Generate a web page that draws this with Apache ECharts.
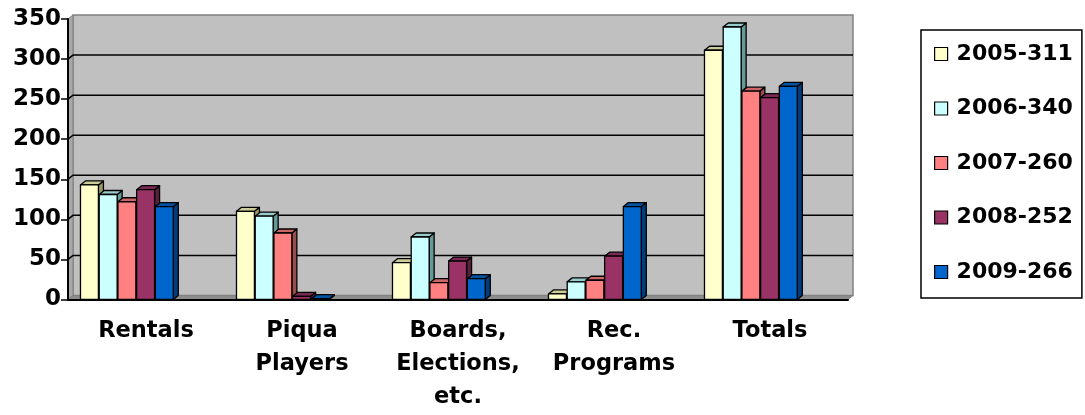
<!DOCTYPE html>
<html><head><meta charset="utf-8">
<script src="https://cdn.jsdelivr.net/npm/echarts@6/dist/echarts.min.js"></script>
<style>html,body{margin:0;padding:0;background:#fff}#c{width:1085px;height:415px}</style>
</head><body><div id="c"></div>
<script>
const categories = ['Rentals', 'Piqua\nPlayers', 'Boards,\nElections,\netc.', 'Rec.\nPrograms', 'Totals'];
const seriesNames = ['2005-311', '2006-340', '2007-260', '2008-252', '2009-266'];
const v2005 = [143, 110, 46, 7, 311];
const v2006 = [131, 104, 78, 22, 340];
const v2007 = [122, 83, 21, 24, 260];
const v2008 = [137, 4, 48, 54, 252];
const v2009 = [116, 1, 26, 116, 266];
const yTicks = [0, 50, 100, 150, 200, 250, 300, 350];

const seriesValues = [v2005, v2006, v2007, v2008, v2009];
const fronts = ['#FFFFCC', '#CCFFFF', '#FF8080', '#993366', '#0066CC'];
const tops = ['#CCCC99', '#99CCCC', '#CC6666', '#7A2952', '#0052A3'];
const sides = ['#999966', '#669999', '#994D4D', '#5C1F3D', '#003D7A'];
const DX = 5, DY = 4;
const FONT = '"DejaVu Sans", sans-serif';

function wallRender(params, api) {
  const cs = params.coordSys;
  const x0 = cs.x, x1 = cs.x + cs.width, yT = cs.y, yB = cs.y + cs.height;
  const children = [];
  children.push({type: 'rect', shape: {x: x0 + DX, y: yT - DY, width: cs.width, height: cs.height},
    style: {fill: '#C0C0C0', stroke: '#808080', lineWidth: 1.5}});
  children.push({type: 'polygon', shape: {points: [[x0, yT], [x0 + DX, yT - DY], [x0 + DX, yB - DY], [x0, yB]]},
    style: {fill: '#A8A8A8', stroke: '#808080', lineWidth: 1}});
  children.push({type: 'polygon', shape: {points: [[x0, yB], [x0 + DX, yB - DY], [x1 + DX, yB - DY], [x1, yB]]},
    style: {fill: '#8C8C8C', stroke: '#808080', lineWidth: 1}});
  yTicks.forEach(function (t) {
    if (t === 0 || t === yTicks[yTicks.length - 1]) return;
    const y = api.coord([0, t])[1];
    children.push({type: 'polyline', shape: {points: [[x0, y], [x0 + DX, y - DY], [x1 + DX, y - DY]]},
      style: {stroke: '#000', lineWidth: 1.5, fill: null}});
  });
  return {type: 'group', children: children};
}

function makeBarRender(s) {
  return function (params, api) {
    const idx = api.value(0), v = api.value(1);
    const top = api.coord([idx, v]);
    const base = api.coord([idx, 0]);
    const catW = api.size([1, 0])[0];
    const left = base[0] - catW / 2 + catW * 0.08 + s * catW * 0.12;
    const w = catW * 0.115;
    const yT = top[1], yB = base[1];
    const st = {stroke: '#000', lineWidth: 1.3, lineJoin: 'round'};
    return {type: 'group', children: [
      {type: 'polygon', shape: {points: [[left + w, yT], [left + w + DX, yT - DY], [left + w + DX, yB - DY], [left + w, yB]]},
        style: Object.assign({fill: sides[s]}, st)},
      {type: 'polygon', shape: {points: [[left, yT], [left + DX, yT - DY], [left + w + DX, yT - DY], [left + w, yT]]},
        style: Object.assign({fill: tops[s]}, st)},
      {type: 'rect', shape: {x: left, y: yT, width: w, height: yB - yT},
        style: Object.assign({fill: fronts[s]}, st)}
    ]};
  };
}

const series = [{
  type: 'custom', name: '_wall', silent: true, z: 1,
  data: [[0, 0]], renderItem: wallRender, legendHoverLink: false
}];
seriesValues.forEach(function (vals, s) {
  series.push({
    type: 'custom', name: seriesNames[s], z: 2 + s,
    itemStyle: {color: fronts[s], borderColor: '#000', borderWidth: 1.2},
    data: vals.map(function (v, i) { return [i, v]; }),
    encode: {x: 0, y: 1},
    renderItem: makeBarRender(s)
  });
});

const chart = echarts.init(document.getElementById('c'), null, {renderer: 'canvas'});
chart.setOption({
  animation: false,
  backgroundColor: '#fff',
  grid: {left: 68, top: 19, width: 780, height: 280.5, containLabel: false},
  xAxis: {
    type: 'category', data: categories, z: 10,
    axisLine: {lineStyle: {color: '#000', width: 2}},
    axisTick: {length: 7, lineStyle: {color: '#000', width: 1.5}},
    axisLabel: {fontFamily: FONT, fontWeight: 'bold', fontSize: 22.5, color: '#000', lineHeight: 33, margin: 15, interval: 0},
    splitLine: {show: false}
  },
  yAxis: {
    type: 'value', min: 0, max: 350, interval: 50, z: 10,
    axisLine: {show: true, lineStyle: {color: '#000', width: 2}},
    axisTick: {show: true, length: 7, lineStyle: {color: '#000', width: 1.5}},
    axisLabel: {fontFamily: FONT, fontWeight: 'bold', fontSize: 23, color: '#000', margin: 7},
    splitLine: {show: false}
  },
  legend: {
    orient: 'vertical', left: 921, top: 30,
    padding: [12, 9, 14, 13],
    borderColor: '#000', borderWidth: 1.5,
    itemWidth: 13, itemHeight: 13, itemGap: 30.5,
    icon: 'rect',
    data: seriesNames.map(function (n, s) {
      return {name: n, itemStyle: {color: fronts[s], borderColor: '#000', borderWidth: 1.2}};
    }),
    textStyle: {fontFamily: FONT, fontWeight: 'bold', fontSize: 22, color: '#000', lineHeight: 24, padding: [0, 0, 0, 4]}
  },
  series: series
});
</script></body></html>
